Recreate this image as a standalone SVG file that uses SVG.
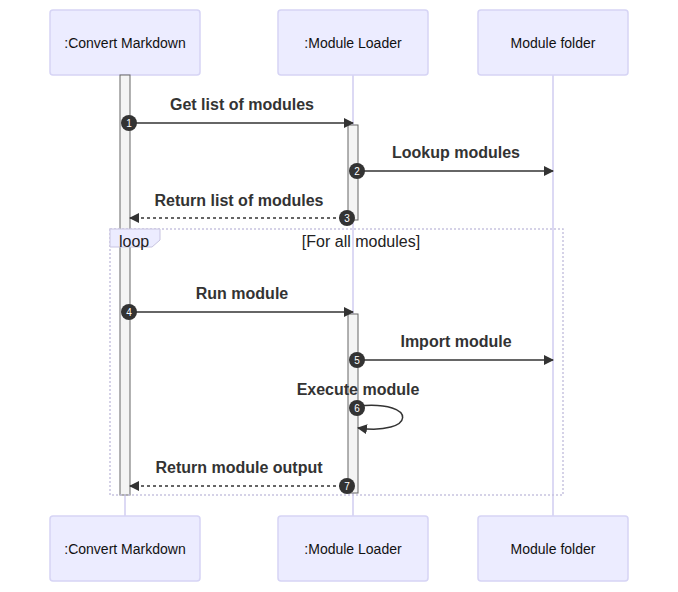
<svg xmlns="http://www.w3.org/2000/svg" width="678" height="592" viewBox="0 0 678 592">
<style>
.actor{fill:#ECECFF;stroke:#D6D4F5;stroke-width:1.5}
.atext{font-family:"Liberation Sans",Arial,sans-serif;font-size:14px;fill:#111;text-anchor:middle;dominant-baseline:central}
.life{stroke:#D0CCF0;stroke-width:1.5;fill:none}
.act{fill:#F4F4F4;stroke:#666;stroke-width:1}
.msg{stroke:#333;stroke-width:1.5;fill:none}
.dash{stroke-dasharray:3,3}
.mtext{font-family:"Liberation Sans",Arial,sans-serif;font-size:16px;font-weight:bold;fill:#333;text-anchor:middle}
.num{fill:#333}
.ntext{font-family:"Liberation Sans",Arial,sans-serif;font-size:10px;fill:#fff;text-anchor:middle;dominant-baseline:central}
.loop{fill:none;stroke:#C8C4E0;stroke-width:1.5;stroke-dasharray:2,2}
.ltext{font-family:"Liberation Sans",Arial,sans-serif;font-size:16px;fill:#222}
</style>
<defs>
<marker id="arrow" viewBox="0 0 10 10" refX="9" refY="5" markerWidth="10" markerHeight="10" markerUnits="userSpaceOnUse" orient="auto">
<path d="M0,0 L10,5 L0,10 z" fill="#333"/>
</marker>
</defs>

<g id="lifelines">
<line class="life" x1="125" y1="75" x2="125" y2="516"/>
<line class="life" x1="353" y1="75" x2="353" y2="516"/>
<line class="life" x1="553" y1="75" x2="553" y2="516"/>
</g>

<g id="actor-convert-top"><rect class="actor" x="50" y="10" width="150" height="65" rx="3"/><text class="atext" x="125" y="43">:Convert Markdown</text></g>
<g id="actor-loader-top"><rect class="actor" x="278" y="10" width="150" height="65" rx="3"/><text class="atext" x="353" y="43">:Module Loader</text></g>
<g id="actor-folder-top"><rect class="actor" x="478" y="10" width="150" height="65" rx="3"/><text class="atext" x="553" y="43">Module folder</text></g>
<g id="actor-convert-bottom"><rect class="actor" x="50" y="516" width="150" height="65" rx="3"/><text class="atext" x="125" y="549">:Convert Markdown</text></g>
<g id="actor-loader-bottom"><rect class="actor" x="278" y="516" width="150" height="65" rx="3"/><text class="atext" x="353" y="549">:Module Loader</text></g>
<g id="actor-folder-bottom"><rect class="actor" x="478" y="516" width="150" height="65" rx="3"/><text class="atext" x="553" y="549">Module folder</text></g>

<g id="activations">
<rect class="act" x="120" y="75" width="10" height="420"/>
<rect class="act" x="348" y="125" width="10" height="95"/>
<rect class="act" x="348" y="314" width="10" height="179"/>
</g>

<g id="loop">
<rect class="loop" x="110" y="229" width="453" height="266"/>
<path d="M110,229 L160,229 L160,240 L152,247 L110,247 z" fill="#ECECFF" stroke="#C8C4E0" stroke-width="1"/>
<text class="ltext" x="119" y="247">loop</text>
<text class="ltext" x="361" y="247" text-anchor="middle">[For all modules]</text>
</g>

<g id="connectors">
<line class="msg" x1="130" y1="123" x2="353" y2="123" marker-end="url(#arrow)"/>
<line class="msg" x1="358" y1="171" x2="553" y2="171" marker-end="url(#arrow)"/>
<line class="msg dash" x1="348" y1="218" x2="130" y2="218" marker-end="url(#arrow)"/>
<line class="msg" x1="130" y1="312" x2="353" y2="312" marker-end="url(#arrow)"/>
<line class="msg" x1="358" y1="360" x2="553" y2="360" marker-end="url(#arrow)"/>
<path class="msg" d="M358,406 C420,400 415,436 358,428" marker-end="url(#arrow)"/>
<line class="msg dash" x1="348" y1="486" x2="130" y2="486" marker-end="url(#arrow)"/>
</g>

<g id="labels">
<text class="mtext" x="242" y="110">Get list of modules</text>
<text class="mtext" x="456" y="158">Lookup modules</text>
<text class="mtext" x="239" y="206">Return list of modules</text>
<text class="mtext" x="242" y="299">Run module</text>
<text class="mtext" x="456" y="347">Import module</text>
<text class="mtext" x="358" y="395">Execute module</text>
<text class="mtext" x="239" y="473">Return module output</text>
</g>

<g id="numbers">
<circle class="num" cx="129" cy="123" r="8"/><text class="ntext" x="129" y="123">1</text>
<circle class="num" cx="357" cy="171" r="8"/><text class="ntext" x="357" y="171">2</text>
<circle class="num" cx="347" cy="218" r="8"/><text class="ntext" x="347" y="218">3</text>
<circle class="num" cx="129" cy="312" r="8"/><text class="ntext" x="129" y="312">4</text>
<circle class="num" cx="357" cy="360" r="8"/><text class="ntext" x="357" y="360">5</text>
<circle class="num" cx="357" cy="408" r="8"/><text class="ntext" x="357" y="408">6</text>
<circle class="num" cx="347" cy="486" r="8"/><text class="ntext" x="347" y="486">7</text>
</g>
</svg>
